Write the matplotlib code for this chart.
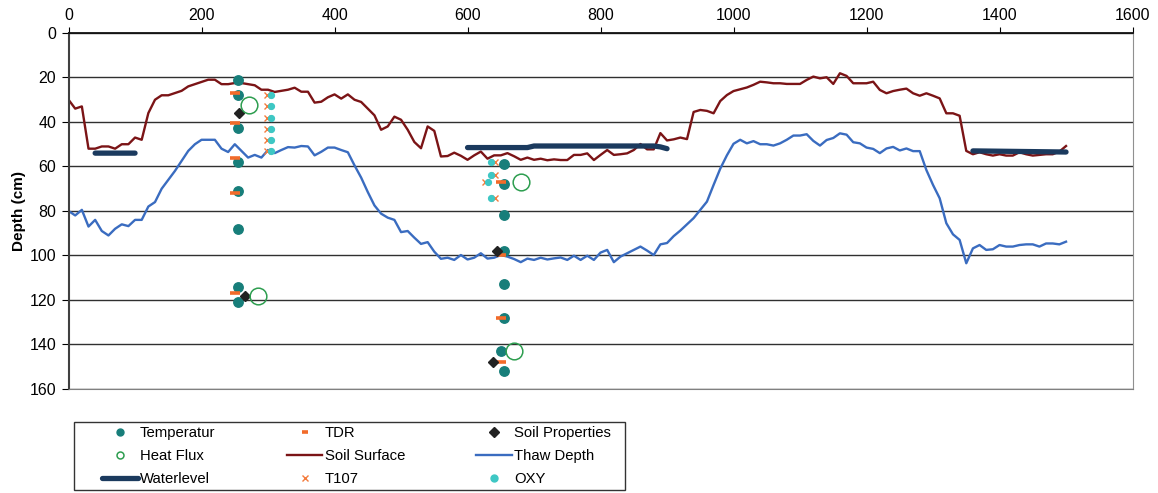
import numpy as np
import matplotlib.pyplot as plt
from matplotlib.patches import Rectangle

plt.rcParams["font.family"] = ["Liberation Sans", "DejaVu Sans"]
plt.rcParams["font.size"] = 10.5

# transect profile, one reading every 10 units
distance = list(range(0, 1510, 10))
soil_surface = [
    30, 34, 33, 52, 52, 51, 51, 52, 50, 50,
    47, 48, 36, 30, 28, 28, 27, 26, 24, 23,
    22, 21, 21, 23, 23, 22.5, 22.5, 23, 23.5, 25.5,
    25.5, 26.5, 26, 25.5, 24.6, 26.4, 26.4, 31.3, 30.9, 28.9,
    27.6, 29.5, 27.6, 30, 31, 34, 37, 43.5, 42, 37.6,
    39, 43.5, 49, 51.8, 42, 44, 55.5, 55.3, 53.8, 55.2,
    57, 55, 53.3, 56.5, 55, 55, 54, 55.4, 57, 56,
    57, 56.5, 57.2, 56.8, 57.1, 57.1, 54.8, 54.8, 54.1, 57.1,
    54.8, 52.6, 54.8, 54.5, 54.1, 52.6, 49.9, 52.3, 52.3, 45,
    48.3, 47.8, 47, 47.7, 35.5, 34.6, 35, 36.1, 30.6, 27.9,
    26.1, 25.3, 24.5, 23.3, 21.9, 22.2, 22.6, 22.6, 22.9, 22.9,
    22.9, 21.1, 19.6, 20.4, 19.9, 22.9, 18.1, 19.3, 22.6, 22.6,
    22.6, 21.9, 25.6, 27.1, 26.1, 25.5, 25, 27.1, 28.2, 27.1,
    28.2, 29.4, 36.1, 36.1, 37.2, 53, 54.5, 53.6, 54.5, 55.1,
    54.5, 55.1, 55.1, 53.6, 54.5, 55.1, 54.8, 54.5, 54.5, 53.3,
    50.8,
]
thaw_depth = [
    80, 82, 79.5, 87, 84, 89, 91, 88, 86, 86.8,
    84, 84, 78, 76, 70, 66, 62, 57.5, 53, 50,
    48, 48, 48, 52, 53.5, 50, 53, 56, 54.8, 56,
    52.6, 54, 52.6, 51.3, 51.5, 50.8, 51, 55, 53.4, 51.5,
    51.5, 52.6, 53.6, 59.5, 65, 71.5, 77.5, 81.2, 83, 84,
    89.5, 89, 92, 94.8, 94, 98.3, 101.5, 101, 102, 99.8,
    101.8, 101, 99, 101.4, 101, 99.8, 100.5, 101.6, 103, 101.4,
    102, 101, 101.8, 101.3, 100.9, 102, 100.1, 102, 100.1, 102,
    98.7, 97.5, 103, 100.5, 99, 97.5, 96, 97.8, 99.8, 95,
    94.4, 91.3, 88.8, 86, 83.2, 79.5, 75.8, 68.3, 61, 55,
    49.8, 48, 49.6, 48.6, 50, 50, 50.6, 49.6, 48, 46.1,
    46.1, 45.5, 48.5, 50.6, 48.1, 47.2, 45.1, 45.7, 49.1, 49.6,
    51.5, 52.1, 54, 51.9, 51.2, 52.8, 51.9, 53.1, 53.1, 61.6,
    68.3, 74.3, 85.5, 90.5, 93, 103.5, 96.8, 95.3, 97.5, 97.2,
    95.3, 96, 96, 95.3, 95, 95, 96, 94.6, 94.6, 95,
    93.8,
]

# water level, three separate stretches
water_x = [40, 100, np.nan, 600, 690, 700, 880, 890, 900, np.nan, 1360, 1500]
water_y = [54, 54, np.nan, 51.5, 51.5, 50.8, 50.8, 51.2, 52, np.nan, 53, 53.5]

# sensor profiles
temp_x = [255, 255, 255, 255, 255, 255, 255, 255, 655, 655, 655, 655, 655, 655, 650, 655]
temp_y = [21, 28, 42.5, 58, 71, 88, 114, 121, 59, 68, 82, 98, 113, 128, 143, 152]
tdr_x = [250, 250, 250, 250, 250, 650, 650, 650, 650]
tdr_y = [27, 40.5, 56, 72, 117, 67, 100, 128, 148]
soil_x = [256, 266, 645, 639]
soil_y = [36, 118, 98, 148]
flux_x = [271, 285, 680, 670]
flux_y = [32.5, 118, 67, 143]
t107_x = [299, 299, 299, 299, 299, 299, 641, 641, 626, 641]
t107_y = [28, 33, 38, 43, 48, 53, 58, 64, 67, 74]
oxy_x = [305, 305, 305, 305, 305, 305, 636, 636, 631, 636]
oxy_y = [28, 33, 38, 43, 48, 53, 58, 64, 67, 74]

fig = plt.figure(figsize=(11.58, 4.93), dpi=100)
ax = fig.add_axes([0.0592, 0.2110, 0.9188, 0.7221])

ss, = ax.plot(distance, soil_surface, color="#7B1416", lw=1.7, label="Soil Surface", zorder=2)
td, = ax.plot(distance, thaw_depth, color="#3A6CC0", lw=1.7, label="Thaw Depth", zorder=2)
wl, = ax.plot(water_x, water_y, color="#1B3A5E", lw=3.8, solid_capstyle="round",
              label="Waterlevel", zorder=3)
tp, = ax.plot(temp_x, temp_y, "o", ms=6.8, color="#177E7A", label="Temperatur", zorder=4)
tdr, = ax.plot(tdr_x, tdr_y, "_", ms=7.5, mew=2.6, color="#F26B2A", label="TDR", zorder=5)
sp, = ax.plot(soil_x, soil_y, "D", ms=5, color="#222222", label="Soil Properties", zorder=6)
hf, = ax.plot(flux_x, flux_y, "o", ms=12, mfc="none", mec="#2E9E50", mew=1.1,
              label="Heat Flux", zorder=6)
t107, = ax.plot(t107_x, t107_y, "x", ms=4.8, mew=1, color="#F47B3C", label="T107", zorder=6)
oxy, = ax.plot(oxy_x, oxy_y, "o", ms=4.2, color="#3EC7C4", label="OXY", zorder=7)

ax.set_xlim(0, 1600)
ax.set_ylim(160, 0)
ax.xaxis.tick_top()
ax.set_xticks(range(0, 1601, 200))
ax.set_yticks(range(0, 161, 20))
ax.yaxis.grid(True, color="#303030", lw=1)
ax.set_axisbelow(True)
ax.tick_params(axis="x", direction="out", length=4, pad=3, labelsize=11.5)
ax.tick_params(axis="y", direction="out", length=5, pad=4, labelsize=11.5)
ax.spines["top"].set_color("#111111")
ax.spines["top"].set_linewidth(1.3)
ax.spines["left"].set_color("#404040")
ax.spines["left"].set_linewidth(1.5)
ax.spines["right"].set_color("#909090")
ax.spines["bottom"].set_color("#808080")
ax.set_ylabel("Depth (cm)", fontweight="bold", fontsize=11)
ax.yaxis.set_label_coords(-0.04, 0.5)

handles = [tp, hf, wl, tdr, ss, t107, sp, td, oxy]
leg = fig.legend(handles, [h.get_label() for h in handles], loc="upper left",
                 bbox_to_anchor=(0.0881, 0.136), ncol=3, frameon=False,
                 borderpad=0, borderaxespad=0, handlelength=2.4, handletextpad=0.15,
                 columnspacing=4.8, labelspacing=0.6, fontsize=10.7)
for h in leg.legend_handles:
    if h.get_marker() not in (None, "None", ""):
        h.set_markersize(5)

fig.add_artist(Rectangle((0.0639, 0.0061), 0.4758, 0.1379, transform=fig.transFigure,
                         fill=False, ec="#333333", lw=1))

fig.savefig("out.png", dpi=100)
